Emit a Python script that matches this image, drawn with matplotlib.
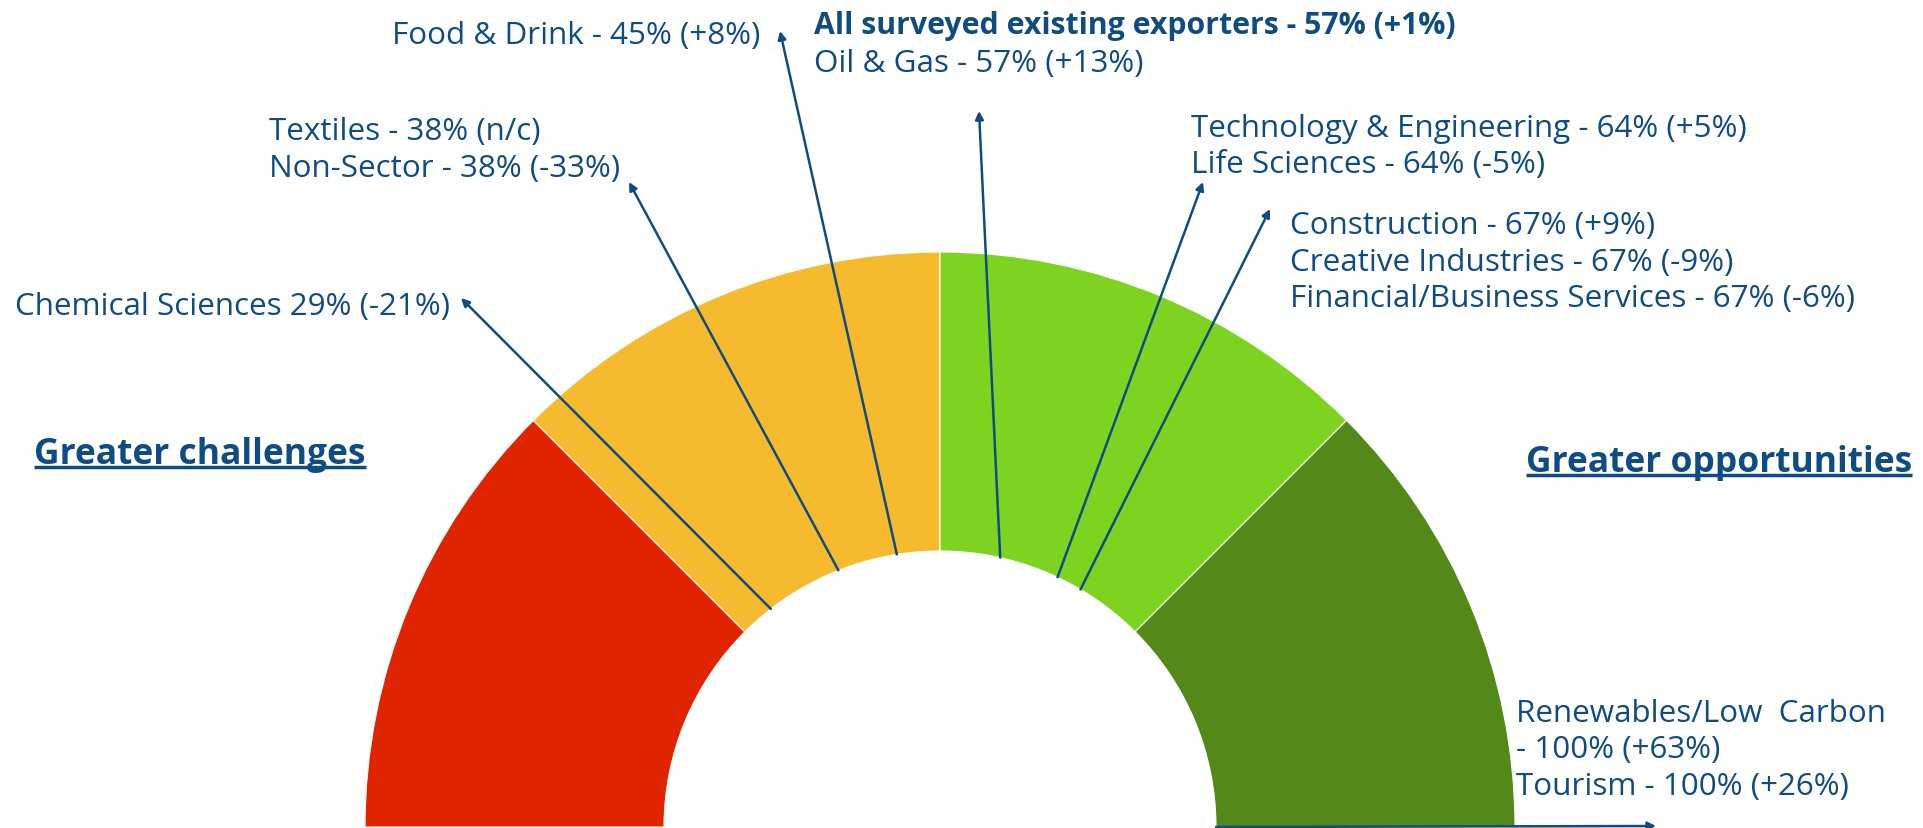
import numpy as np
import matplotlib
matplotlib.use("Agg")
import matplotlib.pyplot as plt
from matplotlib.patches import Wedge

# ---- data ----
band_edges = [0, 25, 50, 75, 100]
band_colors = ["#E02400", "#F6BA2E", "#7ED321", "#528918"]

group_scores = [29, 38, 45, 57, 64, 67, 100]
label_lines = [
    ["Chemical Sciences 29% (-21%)"],
    ["Textiles - 38% (n/c)", "Non-Sector - 38% (-33%)"],
    ["Food & Drink - 45% (+8%)"],
    ["All surveyed existing exporters - 57% (+1%)", "Oil & Gas - 57% (+13%)"],
    ["Technology & Engineering - 64% (+5%)", "Life Sciences - 64% (-5%)"],
    ["Construction - 67% (+9%)", "Creative Industries - 67% (-9%)",
     "Financial/Business Services - 67% (-6%)"],
    ["Renewables/Low  Carbon", "- 100% (+63%)", "Tourism - 100% (+26%)"],
]
side_left = "Greater challenges"
side_right = "Greater opportunities"

# ---- layout (pixel coordinates, y measured from top) ----
W, H = 1923, 829
CX, CY = 940, 0
R_OUT, R_IN = 575, 276
TXT = "#0F4C81"
FONT = "Open Sans"
FS = 22.6
FS_BOLD = 21.8
FS_TITLE = 25.5
DY = 4  # visual centring offset

# label block anchors: (x, first line y, ha)
label_pos = [
    (15, 304, "left"),
    (269, 129, "left"),
    (760, 33, "right"),
    (814, 23, "left"),
    (1191, 126, "left"),
    (1290, 223, "left"),
    (1516, 711, "left"),
]
line_step = [36, 37, 36, 38, 36, 36.5, 36.5]
arrow_heads = [(461, 300), (629, 184), (780, 33), (979, 113),
               (1203, 184), (1270, 211), (1656, 828)]

fig = plt.figure(figsize=(W / 100, H / 100), dpi=100)
ax = fig.add_axes([0, 0, 1, 1])
ax.set_xlim(0, W)
ax.set_ylim(-1, H - 1)
ax.set_aspect("equal")
ax.axis("off")

def py(y):
    return H - y

# gauge bands
for i in range(len(band_colors)):
    v0, v1 = band_edges[i], band_edges[i + 1]
    t1 = 180 * (1 - v1 / 100)
    t2 = 180 * (1 - v0 / 100)
    ax.add_patch(Wedge((CX, CY), R_OUT, t1, t2, width=R_OUT - R_IN,
                       facecolor=band_colors[i], edgecolor="white", lw=0.8))

# arrows
for s, head in zip(group_scores, arrow_heads):
    th = np.pi * (1 - s / 100)
    tail = (CX + R_IN * np.cos(th), CY + R_IN * np.sin(th))
    ax.annotate("", xy=(head[0], py(head[1])), xytext=tail,
                arrowprops=dict(arrowstyle="-|>", color=TXT, lw=1.8,
                                mutation_scale=12, shrinkA=0, shrinkB=0))

# labels
for gi, (lines, (x, y0, ha)) in enumerate(zip(label_lines, label_pos)):
    for li, t in enumerate(lines):
        bold = (gi == 3 and li == 0)
        ax.text(x, py(y0 + li * line_step[gi] + DY), t, ha=ha, va="center",
                fontsize=FS_BOLD if bold else FS, color=TXT, family=FONT,
                fontweight="bold" if bold else "normal")

# side titles with underline
t_l = ax.text(34, py(452 + DY), side_left, ha="left", va="center", fontsize=FS_TITLE,
              color=TXT, family=FONT, fontweight="bold")
t_r = ax.text(1912, py(460 + DY), side_right, ha="right", va="center", fontsize=FS_TITLE,
              color=TXT, family=FONT, fontweight="bold")
fig.canvas.draw()
r = fig.canvas.get_renderer()
inv = ax.transData.inverted()
for t, uy in [(t_l, 469), (t_r, 477)]:
    bb = t.get_window_extent(renderer=r)
    x0 = inv.transform((bb.x0, 0))[0]
    x1 = inv.transform((bb.x1, 0))[0]
    ax.plot([x0, x1], [py(uy), py(uy)], color=TXT, lw=2.5, solid_capstyle="butt")

fig.savefig("out.png", dpi=100, facecolor="white")
